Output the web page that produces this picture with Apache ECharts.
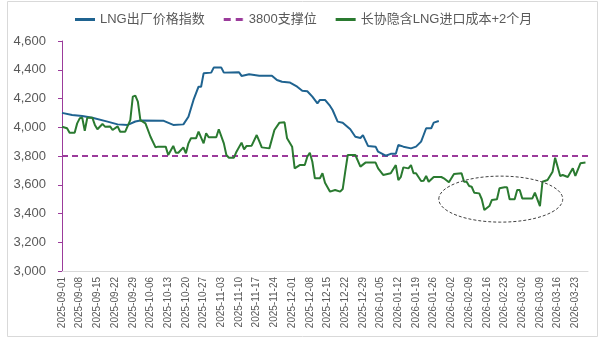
<!DOCTYPE html>
<html><head><meta charset="utf-8">
<script src="https://cdn.jsdelivr.net/npm/echarts@6/dist/echarts.min.js"></script>
<style>html,body{margin:0;padding:0;background:#fff}#c{width:609px;height:342px}</style>
</head><body><div id="c"></div>
<script>
// ---- data ----
const START_DATE = '2025-09-01';
const END_DATE = '2026-03-28';
const SUPPORT_LEVEL = 3800;
const yTicks = [3000, 3200, 3400, 3600, 3800, 4000, 4200, 4400, 4600];
const seriesNames = ['LNG出厂价格指数', '3800支撑位', '长协隐含LNG进口成本+2个月'];

const lngIndex = [
 ['2025-09-01',4100],['2025-09-05',4085],['2025-09-09',4078],['2025-09-13',4066],['2025-09-19',4039],
 ['2025-09-23',4020],['2025-09-27',4016],['2025-09-30',4040],['2025-10-02',4047],['2025-10-11',4046],
 ['2025-10-15',4016],['2025-10-19',4020],['2025-10-21',4073],['2025-10-23',4190],['2025-10-25',4282],
 ['2025-10-26',4282],['2025-10-27',4375],['2025-10-30',4380],['2025-10-31',4415],['2025-11-03',4415],
 ['2025-11-04',4380],['2025-11-10',4383],['2025-11-11',4357],['2025-11-14',4368],['2025-11-18',4359],
 ['2025-11-23',4359],['2025-11-25',4329],['2025-11-27',4317],['2025-11-30',4312],['2025-12-03',4282],
 ['2025-12-05',4254],['2025-12-07',4250],['2025-12-09',4213],['2025-12-11',4166],['2025-12-12',4190],
 ['2025-12-14',4190],['2025-12-16',4148],['2025-12-17',4120],['2025-12-19',4039],['2025-12-21',4032],
 ['2025-12-24',3986],['2025-12-26',3934],['2025-12-28',3925],['2025-12-29',3945],['2025-12-31',3870],
 ['2026-01-03',3865],['2026-01-04',3830],['2026-01-07',3802],['2026-01-09',3815],['2026-01-11',3815],
 ['2026-01-12',3877],['2026-01-14',3865],['2026-01-17',3853],['2026-01-19',3865],['2026-01-21',3900],
 ['2026-01-22',3946],['2026-01-23',3993],['2026-01-25',3993],['2026-01-26',4032],['2026-01-28',4043]
];

const importCost = [
 ['2025-09-01',4004],['2025-09-03',3993],['2025-09-04',3962],['2025-09-06',3962],['2025-09-07',4027],
 ['2025-09-08',4062],['2025-09-09',4066],['2025-09-10',3976],['2025-09-11',4066],['2025-09-13',4066],
 ['2025-09-14',4016],['2025-09-15',3986],['2025-09-17',4023],['2025-09-18',4004],['2025-09-20',4006],
 ['2025-09-21',3981],['2025-09-23',4006],['2025-09-24',3969],['2025-09-26',3969],['2025-09-28',4050],
 ['2025-09-29',4213],['2025-09-30',4220],['2025-10-01',4178],['2025-10-02',4050],['2025-10-04',4027],
 ['2025-10-06',3934],['2025-10-08',3860],['2025-10-09',3865],['2025-10-12',3865],['2025-10-13',3807],
 ['2025-10-15',3870],['2025-10-16',3823],['2025-10-17',3823],['2025-10-19',3860],['2025-10-20',3819],
 ['2025-10-21',3888],['2025-10-22',3923],['2025-10-24',3923],['2025-10-25',3969],['2025-10-27',3888],
 ['2025-10-28',3958],['2025-10-29',3930],['2025-11-01',3930],['2025-11-02',3986],['2025-11-04',3888],
 ['2025-11-05',3807],['2025-11-06',3788],['2025-11-08',3788],['2025-11-09',3830],['2025-11-11',3893],
 ['2025-11-12',3846],['2025-11-13',3870],['2025-11-15',3872],['2025-11-17',3946],['2025-11-18',3904],
 ['2025-11-19',3860],['2025-11-22',3853],['2025-11-24',3981],['2025-11-26',4032],['2025-11-28',4034],
 ['2025-11-29',3923],['2025-12-01',3865],['2025-12-02',3714],['2025-12-04',3737],['2025-12-06',3737],
 ['2025-12-07',3795],['2025-12-08',3823],['2025-12-09',3760],['2025-12-10',3645],['2025-12-12',3645],
 ['2025-12-13',3680],['2025-12-14',3614],['2025-12-16',3552],['2025-12-18',3563],['2025-12-20',3552],
 ['2025-12-21',3570],['2025-12-22',3691],['2025-12-23',3807],['2025-12-26',3807],['2025-12-28',3726],
 ['2025-12-30',3754],['2026-01-03',3754],['2026-01-04',3714],['2026-01-06',3668],['2026-01-09',3680],
 ['2026-01-11',3737],['2026-01-12',3633],['2026-01-13',3655],['2026-01-14',3721],['2026-01-16',3714],
 ['2026-01-17',3737],['2026-01-18',3680],['2026-01-19',3680],['2026-01-21',3626],['2026-01-22',3628],
 ['2026-01-23',3661],['2026-01-24',3621],['2026-01-26',3654],['2026-01-29',3654],['2026-01-30',3645],
 ['2026-02-01',3617],['2026-02-03',3675],['2026-02-06',3680],['2026-02-07',3621],['2026-02-08',3621],
 ['2026-02-09',3591],['2026-02-10',3586],['2026-02-11',3545],['2026-02-13',3540],['2026-02-14',3499],
 ['2026-02-15',3424],['2026-02-17',3452],['2026-02-18',3494],['2026-02-20',3499],['2026-02-21',3575],
 ['2026-02-23',3582],['2026-02-24',3582],['2026-02-25',3499],['2026-02-27',3499],['2026-02-28',3563],
 ['2026-03-01',3563],['2026-03-02',3505],['2026-03-06',3505],['2026-03-07',3545],['2026-03-09',3452],
 ['2026-03-10',3621],['2026-03-12',3633],['2026-03-14',3691],['2026-03-15',3788],['2026-03-17',3661],
 ['2026-03-18',3668],['2026-03-20',3654],['2026-03-22',3714],['2026-03-23',3661],['2026-03-25',3749],
 ['2026-03-27',3754]
];

// highlighted region (data coordinates): [x-left, x-right], [y-low, y-high]
const highlightX = ['2026-01-28', '2026-03-18'];
const highlightY = [3340, 3660];

// ---- build categories (daily) ----
function buildDates(a, b) {
  const out = [];
  const d = new Date(a + 'T00:00:00Z'), e = new Date(b + 'T00:00:00Z');
  while (d <= e) { out.push(d.toISOString().slice(0, 10)); d.setUTCDate(d.getUTCDate() + 1); }
  return out;
}
const dates = buildDates(START_DATE, END_DATE);
const supportLine = [[dates[0], SUPPORT_LEVEL], [dates[dates.length - 1], SUPPORT_LEVEL]];

const C_BLUE = '#1f6390', C_PURPLE = '#9b3b9b', C_GREEN = '#2a7a30', TXT = '#595959';
const FONT = "'Liberation Sans', 'Noto Sans CJK SC', sans-serif";
const ICON_SOLID = 'path://M0,0h20v3h-20z';
const ICON_DASH = 'path://M0,0h7v3h-7z M12,0h7v3h-7z M19.9,0h0.1v3h-0.1z';

const chart = echarts.init(document.getElementById('c'), null, { renderer: 'canvas' });
chart.setOption({
  animation: false,
  textStyle: { fontFamily: FONT },
  legend: {
    top: 8, left: 70, itemWidth: 20, itemHeight: 14, itemGap: 19,
    textStyle: { fontSize: 13, color: TXT, fontFamily: FONT },
    data: [
      { name: seriesNames[0], icon: ICON_SOLID },
      { name: seriesNames[1], icon: ICON_DASH },
      { name: seriesNames[2], icon: ICON_SOLID }
    ]
  },
  grid: { left: 62, right: 21, top: 41, bottom: 71, containLabel: false },
  xAxis: {
    type: 'category', data: dates, boundaryGap: false,
    axisLine: { lineStyle: { color: '#d9d9d9', width: 1 } },
    axisTick: { show: false },
    axisLabel: { interval: 6, rotate: 90, fontSize: 10, color: TXT, margin: 6, fontFamily: FONT },
    splitLine: { show: false }
  },
  yAxis: {
    type: 'value', min: yTicks[0], max: yTicks[yTicks.length - 1], interval: 200,
    axisLine: { show: true, lineStyle: { color: C_PURPLE, width: 1 } },
    axisTick: { show: true, length: 4, lineStyle: { color: C_PURPLE } },
    axisLabel: { fontSize: 13, color: TXT, margin: 16, fontFamily: FONT,
      formatter: v => v.toLocaleString('en-US') },
    splitLine: { show: false }
  },
  series: [
    { name: seriesNames[0], type: 'line', data: lngIndex, symbol: 'none', smooth: false,
      lineStyle: { color: C_BLUE, width: 2 }, itemStyle: { color: C_BLUE }, z: 3 },
    { name: seriesNames[1], type: 'line', data: supportLine, symbol: 'none',
      lineStyle: { color: C_PURPLE, width: 2, type: [6, 4] }, itemStyle: { color: C_PURPLE }, z: 2 },
    { name: seriesNames[2], type: 'line', data: importCost, symbol: 'none',
      lineStyle: { color: C_GREEN, width: 2 }, itemStyle: { color: C_GREEN }, z: 4 }
  ]
});

const p1 = chart.convertToPixel({ gridIndex: 0 }, [highlightX[0], highlightY[1]]);
const p2 = chart.convertToPixel({ gridIndex: 0 }, [highlightX[1], highlightY[0]]);
chart.setOption({
  graphic: [
    { type: 'rect', silent: true, shape: { x: 7.5, y: 1.5, width: 590, height: 335 },
      style: { fill: null, stroke: '#d9d9d9', lineWidth: 1 } },
    { type: 'ellipse', silent: true, z: 10,
      shape: { cx: (p1[0] + p2[0]) / 2, cy: (p1[1] + p2[1]) / 2,
               rx: Math.abs(p2[0] - p1[0]) / 2, ry: Math.abs(p2[1] - p1[1]) / 2 },
      style: { fill: null, stroke: '#404040', lineWidth: 1, lineDash: [3, 2] } }
  ]
});
</script></body></html>
